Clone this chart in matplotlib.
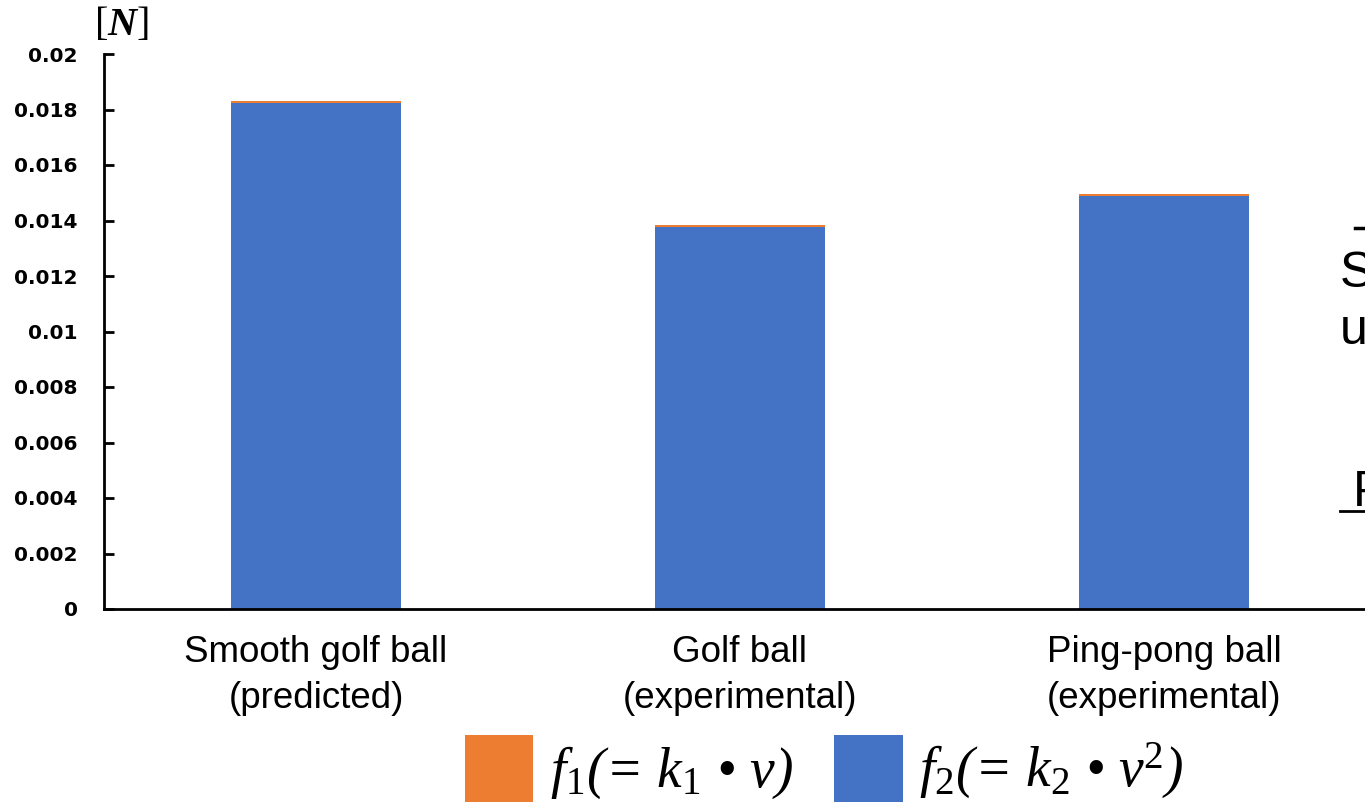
import matplotlib
matplotlib.use("Agg")
import matplotlib.pyplot as plt
from matplotlib.patches import Patch
from matplotlib.lines import Line2D

# Drag force components for each ball [N]
categories = ["Smooth golf ball\n(predicted)", "Golf ball\n(experimental)", "Ping-pong ball\n(experimental)"]
f2_values = [0.01825, 0.01378, 0.01489]   # quadratic term k2*v^2
f1_values = [0.00007, 0.00006, 0.00006]   # linear term k1*v
y_ticks = [0, 0.002, 0.004, 0.006, 0.008, 0.01, 0.012, 0.014, 0.016, 0.018, 0.02]
y_tick_labels = ["0", "0.002", "0.004", "0.006", "0.008", "0.01", "0.012", "0.014", "0.016", "0.018", "0.02"]
legend_labels = [r"f$_\mathit{1}$(= k$_\mathit{1}$ • v)", r"f$_\mathit{2}$(= k$_\mathit{2}$ • v$^\mathit{2}$)"]

COLOR_F1 = "#ED7D31"
COLOR_F2 = "#4472C4"

plt.rcParams["mathtext.fontset"] = "custom"
plt.rcParams["mathtext.rm"] = "Liberation Serif"
plt.rcParams["mathtext.it"] = "Liberation Serif:italic"
plt.rcParams["mathtext.bf"] = "Liberation Serif:bold:italic"

W, H = 1365, 802
fig = plt.figure(figsize=(W / 100, H / 100), dpi=100)
ax = fig.add_axes([104 / W, 1 - 609 / H, 1272 / W, 555 / H])

x = list(range(len(categories)))
ax.bar(x, f2_values, width=0.4, color=COLOR_F2, label=legend_labels[1])
ax.bar(x, f1_values, width=0.4, bottom=f2_values, color=COLOR_F1, label=legend_labels[0])

ax.set_xlim(-0.5, 2.5)
ax.set_ylim(0, 0.02)
ax.set_yticks(y_ticks)
ax.set_yticklabels(y_tick_labels, fontfamily="DejaVu Sans", fontweight="bold", fontsize=14.5)
ax.tick_params(axis="y", direction="in", length=7, width=2, pad=19)
ax.set_xticks(x)
ax.set_xticklabels(categories, fontfamily="Liberation Sans", fontsize=26.5, linespacing=1.38)
ax.tick_params(axis="x", length=0, pad=19)

for side in ("top", "right"):
    ax.spines[side].set_visible(False)
for side in ("left", "bottom"):
    ax.spines[side].set_linewidth(2)
ax.spines["bottom"].set_clip_on(False)

# Unit label
fig.text(121 / W, 1 - 24 / H, r"$\mathrm{[}\mathbf{N}\mathrm{]}$", fontsize=29, ha="center", va="center")

# Legend
handles = [Patch(facecolor=COLOR_F1, edgecolor="none"), Patch(facecolor=COLOR_F2, edgecolor="none")]
fig.legend(handles, legend_labels, loc="upper left", bbox_to_anchor=(465 / W, 1 - 735 / H),
           ncol=2, frameon=False, handlelength=1.23, handleheight=1.5,
           handletextpad=0.3, columnspacing=0.75, borderpad=0, borderaxespad=0,
           prop=dict(family="Liberation Serif", style="italic", size=40))

# Neighbouring slide text at the right edge
side_font = dict(fontfamily="Liberation Sans", fontsize=36, ha="left", va="baseline", color="black")
fig.text(1340 / W, 1 - 287 / H, "S", **side_font)
fig.text(1340 / W, 1 - 344 / H, "u", **side_font)
fig.text(1353 / W, 1 - 506 / H, "P", **side_font)
fig.add_artist(Line2D([1340 / W, 1.0], [1 - 511 / H, 1 - 511 / H], color="black", lw=2))
fig.add_artist(Line2D([1355 / W, 1.0], [1 - 228 / H, 1 - 228 / H], color="black", lw=2.5))

fig.savefig("out.png", dpi=100)
